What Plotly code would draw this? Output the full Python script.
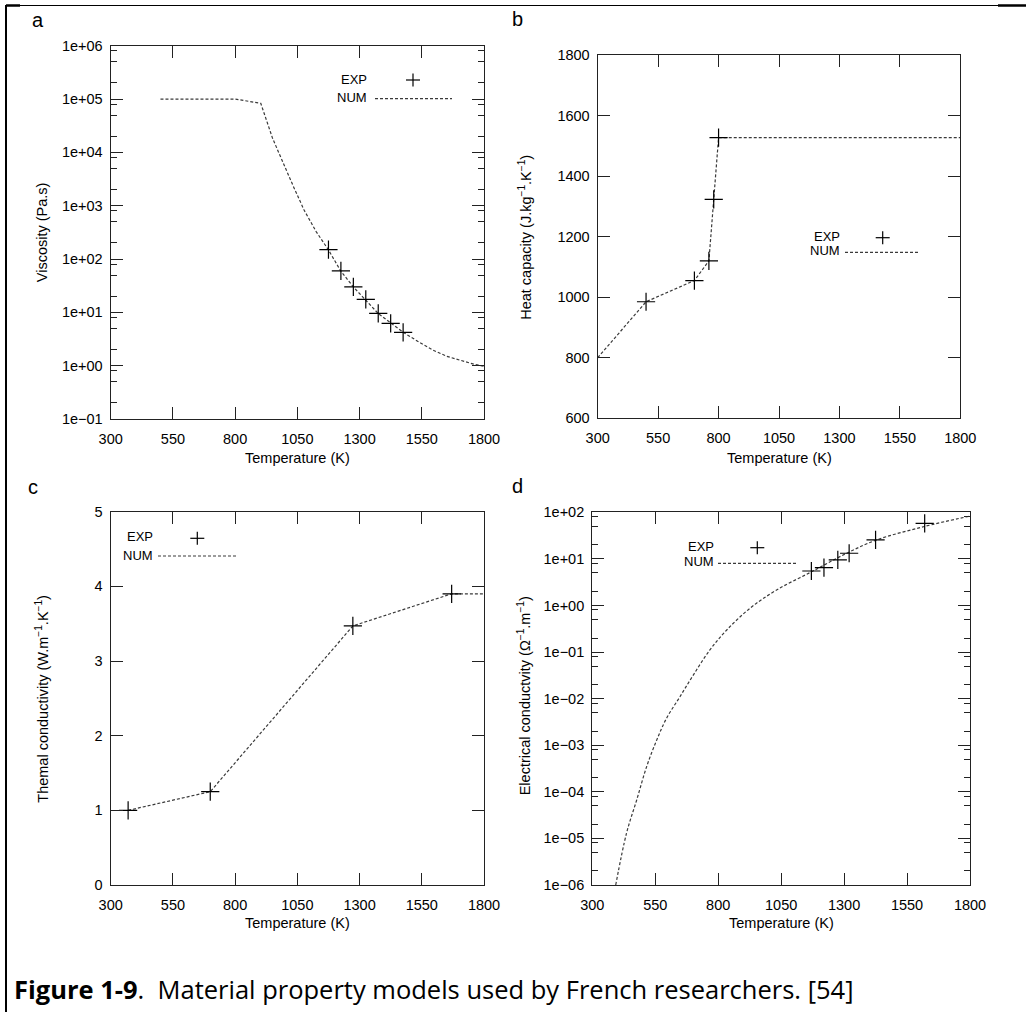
import plotly.graph_objects as go

W, H = 1026, 1012

# ---------------- data ----------------
# (a) Viscosity
visc_num_T = [500, 800, 903, 925, 950, 974, 1000, 1034, 1077, 1125, 1175, 1224, 1275, 1326, 1375, 1426, 1476, 1540, 1596, 1650, 1704, 1764, 1800]
visc_num_v = [1e5, 1e5, 8.3e4, 4.0e4, 1.86e4, 1.02e4, 5.2e3, 2.3e3, 8.3e2, 3.3e2, 1.48e2, 60, 30, 17, 9.5, 6.3, 4.2, 2.75, 1.95, 1.5, 1.26, 1.05, 0.98]
visc_exp_T = [1175, 1225, 1275, 1325, 1375, 1425, 1475]
visc_exp_v = [150, 60, 30, 17.5, 9.6, 6.2, 4.2]

# (b) Heat capacity
cp_num_T = [300, 500, 700, 760, 780, 800, 1823]
cp_num_v = [800, 985, 1055, 1120, 1323, 1527, 1527]
cp_exp_T = [500, 700, 760, 780, 800]
cp_exp_v = [985, 1055, 1120, 1323, 1527]

# (c) Thermal conductivity
k_num_T = [370, 700, 1273, 1670, 1830]
k_num_v = [1.0, 1.25, 3.47, 3.9, 3.9]
k_exp_T = [370, 700, 1273, 1670]
k_exp_v = [1.0, 1.25, 3.47, 3.9]

# (d) Electrical conductivity
s_num_T = [393, 436, 476, 516, 556, 595, 648, 701, 767, 834, 926, 1032, 1171, 1310, 1429, 1615, 1800]
s_num_v = [1e-6, 1.3e-5, 6.6e-5, 3.5e-4, 1.3e-3, 3.8e-3, 1.1e-2, 3.2e-2, 0.111, 0.298, 0.87, 2.15, 5.3, 13.2, 25.5, 49, 83]
s_exp_T = [1170, 1220, 1275, 1320, 1425, 1620]
s_exp_v = [5.5, 6.5, 9.5, 13.2, 25.5, 58]

temp_ticks = [300, 550, 800, 1050, 1300, 1550, 1800]
visc_ticks = [1e-1, 1e0, 1e1, 1e2, 1e3, 1e4, 1e5, 1e6]
visc_ticktext = ["1e\u221201", "1e+00", "1e+01", "1e+02", "1e+03", "1e+04", "1e+05", "1e+06"]
cp_ticks = [600, 800, 1000, 1200, 1400, 1600, 1800]
k_ticks = [0, 1, 2, 3, 4, 5]
s_ticks = [1e-6, 1e-5, 1e-4, 1e-3, 1e-2, 1e-1, 1e0, 1e1, 1e2]
s_ticktext = ["1e\u221206", "1e\u221205", "1e\u221204", "1e\u221203", "1e\u221202", "1e\u221201", "1e+00", "1e+01", "1e+02"]

panel_letters = ["a", "b", "c", "d"]
y_titles = ["Viscosity (Pa.s)",
            "Heat capacity (J.kg<sup>\u22121</sup>.K<sup>\u22121</sup>)",
            "Themal conductivity (W.m<sup>\u22121</sup>.K<sup>\u22121</sup>)",
            "Electrical conductvity (\u03a9<sup>\u22121</sup>.m<sup>\u22121</sup>)"]
x_title = "Temperature (K)"
caption_bold = "Figure 1-9"
caption_rest = ".  Material property models used by French researchers. [54]"

# ---------------- layout helpers ----------------
def fx(p):
    return p / W

def fy(p):
    return 1 - p / H

FONT = "Liberation Sans, Arial, Helvetica, sans-serif"
TF = dict(family=FONT, size=14.5, color="black")

# plot areas in pixels: (left, right, top, bottom)
boxes = [(110.7, 484.0, 45.7, 419.0),
         (597.7, 960.3, 55.0, 418.3),
         (110.7, 484.0, 511.7, 885.0),
         (592.3, 970.0, 512.3, 885.0)]

fig = go.Figure()

line_style = dict(color="#3a3a3a", width=1.2, dash="3px,2px")
marker_style = dict(symbol="cross-thin", size=13, line=dict(color="black", width=1.2), color="black")

series = [
    (visc_num_T, visc_num_v, visc_exp_T, visc_exp_v, "linear"),
    (cp_num_T, cp_num_v, cp_exp_T, cp_exp_v, "linear"),
    (k_num_T, k_num_v, k_exp_T, k_exp_v, "linear"),
    (s_num_T, s_num_v, s_exp_T, s_exp_v, "spline"),
]

for i, (nt, nv, et, ev, shp) in enumerate(series):
    sfx = "" if i == 0 else str(i + 1)
    ls = dict(line_style, shape=shp)
    fig.add_trace(go.Scatter(x=nt, y=nv, mode="lines", line=ls,
                             xaxis="x" + sfx, yaxis="y" + sfx, showlegend=False, hoverinfo="skip"))
    fig.add_trace(go.Scatter(x=et, y=ev, mode="markers", marker=marker_style, cliponaxis=False,
                             xaxis="x" + sfx, yaxis="y" + sfx, showlegend=False, hoverinfo="skip"))

common_axis = dict(showline=True, linecolor="#222", linewidth=1.3, mirror="ticks",
                   ticks="inside", ticklen=12, tickwidth=1.3, tickcolor="#222",
                   showgrid=False, zeroline=False, tickfont=TF, automargin=False)

def log_minor(kmin, kmax):
    vals = []
    for k in range(kmin, kmax):
        for m in (2, 5, 8):
            vals.append(m * 10 ** k)
    return vals

layout = dict(width=W, height=H, margin=dict(l=0, r=0, t=0, b=0),
              paper_bgcolor="white", plot_bgcolor="white", showlegend=False)

for i, (l, r, t, b) in enumerate(boxes):
    sfx = "" if i == 0 else str(i + 1)
    xa = dict(common_axis, domain=[fx(l), fx(r)], range=[300, 1800], tickmode="array",
              tickvals=temp_ticks, anchor="y" + sfx, ticklabelstandoff=6)
    ya = dict(common_axis, domain=[fy(b), fy(t)], anchor="x" + sfx, tickmode="array", ticklabelstandoff=4)
    if i == 0:
        ya.update(type="log", range=[-1, 6], tickvals=visc_ticks, ticktext=visc_ticktext,
                  minor=dict(tickmode="array", tickvals=log_minor(-1, 6), ticks="inside",
                             ticklen=6, tickwidth=1.2, tickcolor="#222"))
    elif i == 1:
        ya.update(range=[600, 1800], tickvals=cp_ticks)
    elif i == 2:
        ya.update(range=[0, 5], tickvals=k_ticks)
    else:
        ya.update(type="log", range=[-6, 2], tickvals=s_ticks, ticktext=s_ticktext,
                  minor=dict(tickmode="array", tickvals=log_minor(-6, 2), ticks="inside",
                             ticklen=6, tickwidth=1.2, tickcolor="#222"))
    layout["xaxis" + sfx] = xa
    layout["yaxis" + sfx] = ya

fig.update_layout(**layout)

annotations = []
shapes = []

# panel letters
letter_pos = [(38, 20), (517, 19), (33, 487), (517, 486)]
for s, (x, y) in zip(panel_letters, letter_pos):
    annotations.append(dict(text=s, x=fx(x), y=fy(y), xref="paper", yref="paper",
                            showarrow=False, xanchor="center", yanchor="middle",
                            font=dict(family=FONT, size=20, color="black")))

# axis titles
ytitle_pos = [(41.7, 232.5), (524.3, 237.5), (41.7, 699), (524.3, 696)]
for s, (x, y) in zip(y_titles, ytitle_pos):
    annotations.append(dict(text=s, x=fx(x), y=fy(y), xref="paper", yref="paper", textangle=-90,
                            showarrow=False, xanchor="center", yanchor="middle", font=TF))
xtitle_pos = [(297.4, 458), (779, 458), (297.4, 923), (781, 923)]
for (x, y) in xtitle_pos:
    annotations.append(dict(text=x_title, x=fx(x), y=fy(y), xref="paper", yref="paper",
                            showarrow=False, xanchor="center", yanchor="middle", font=TF))

# legends (gnuplot style: label then sample)
LF = dict(family=FONT, size=13, color="black")
legends = [  # exp_text_right, exp_y, plus_x, plus_y, num_y, dash_x0, dash_x1, dash_y
    (369, 79, 413, 80, 97, 375, 452, 98.7),
    (841.7, 236, 882.7, 237.7, 250.7, 845, 920, 252.3),
    (155, 536.7, 197.3, 538.3, 555, 158, 236, 556),
    (716, 546.7, 757.3, 547.7, 561.7, 718, 796.7, 563.3),
]
for (xr, ye, px, py, yn, d0, d1, dy) in legends:
    annotations.append(dict(text="EXP", x=fx(xr), y=fy(ye), xref="paper", yref="paper",
                            showarrow=False, xanchor="right", yanchor="middle", font=LF))
    annotations.append(dict(text="NUM", x=fx(xr), y=fy(yn), xref="paper", yref="paper",
                            showarrow=False, xanchor="right", yanchor="middle", font=LF))
    shapes.append(dict(type="line", xref="paper", yref="paper", x0=fx(px - 7), x1=fx(px + 7),
                       y0=fy(py), y1=fy(py), line=dict(color="black", width=1.2)))
    shapes.append(dict(type="line", xref="paper", yref="paper", x0=fx(px), x1=fx(px),
                       y0=fy(py - 6.5), y1=fy(py + 6.5), line=dict(color="black", width=1.2)))
    shapes.append(dict(type="line", xref="paper", yref="paper", x0=fx(d0), x1=fx(d1),
                       y0=fy(dy), y1=fy(dy), line=dict(color="#3a3a3a", width=1.2, dash="3px,2px")))

# caption
annotations.append(dict(text="<b>" + caption_bold + "</b>" + caption_rest, x=fx(12), y=fy(989),
                        xref="paper", yref="paper", showarrow=False, xanchor="left", yanchor="middle",
                        font=dict(family="Open Sans, Lato, sans-serif", size=25.5, color="black")))

# page frame
shapes.append(dict(type="line", xref="paper", yref="paper", x0=fx(6), x1=1, y0=fy(5.5), y1=fy(5.5),
                   line=dict(color="black", width=1)))
shapes.append(dict(type="line", xref="paper", yref="paper", x0=fx(6), x1=fx(6), y0=fy(5), y1=0,
                   line=dict(color="black", width=2)))
shapes.append(dict(type="line", xref="paper", yref="paper", x0=fx(6), x1=fx(20), y0=fy(5.5), y1=fy(5.5),
                   line=dict(color="black", width=2.5)))
shapes.append(dict(type="line", xref="paper", yref="paper", x0=fx(998), x1=1, y0=fy(5.5), y1=fy(5.5),
                   line=dict(color="black", width=2.5)))

fig.update_layout(annotations=annotations, shapes=shapes)

fig.write_html("out.html")
